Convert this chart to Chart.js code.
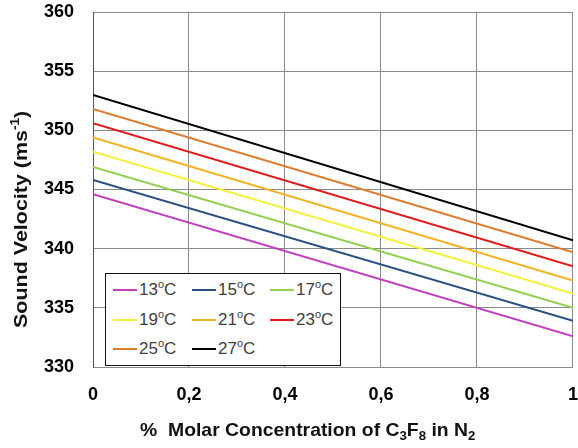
<!DOCTYPE html>
<html><head><meta charset="utf-8">
<script src="https://cdn.jsdelivr.net/npm/chart.js@4"></script>
<style>
html,body{margin:0;padding:0;background:#fff;}
#wrap{position:relative;width:578px;height:448px;}
#legend{position:absolute;left:105px;top:273px;width:236px;height:93px;border:1.5px solid #111;background:#fff;
 font-family:"Liberation Sans",Arial,sans-serif;font-size:17px;color:#404040;box-sizing:border-box;}
.item{position:absolute;display:flex;align-items:center;white-space:nowrap;line-height:18px;}
.sw{display:inline-block;width:24px;height:2.5px;margin-right:2px;}
.sup{font-size:11px;position:relative;top:-6px;}
</style></head>
<body><div id="wrap"><canvas id="c" width="578" height="448"></canvas><div id="legend"></div></div>
<script>
const xValues = [0, 1];
const seriesNames = ['13', '15', '17', '19', '21', '23', '25', '27'];
const s13 = [344.6, 332.6];
const s15 = [345.8, 333.9];
const s17 = [346.9, 335.0];
const s19 = [348.2, 336.2];
const s21 = [349.4, 337.3];
const s23 = [350.6, 338.5];
const s25 = [351.8, 339.7];
const s27 = [353.0, 340.7];
const seriesValues = [s13, s15, s17, s19, s21, s23, s25, s27];
const seriesColors = ['#c23fbf', '#2a4f82', '#92d050', '#f2f23c', '#f2b322', '#e01b1b', '#e07a2c', '#000000'];
const xTickLabels = ['0', '0,2', '0,4', '0,6', '0,8', '1'];
const yTickLabels = ['330', '335', '340', '345', '350', '355', '360'];
// title pieces: [text, 0 normal / 1 subscript / 2 superscript]
const xTitle = [['%  Molar Concentration of C', 0], ['3', 1], ['F', 0], ['8', 1], [' in N', 0], ['2', 1]];
const yTitle = [['Sound Velocity (ms', 0], ['-1', 2], [')', 0]];

const datasets = seriesValues.map((vals, i) => ({
  label: seriesNames[i] + '°C',
  data: xValues.map((x, j) => ({x: x, y: vals[j]})),
  borderColor: seriesColors[i],
  backgroundColor: seriesColors[i],
  borderWidth: 2,
  pointRadius: 0,
  tension: 0,
  fill: false
}));

const FAM = '"Liberation Sans", Arial, sans-serif';
const font = {family: FAM, size: 18, weight: 'bold'};

function drawPieces(ctx, pieces, stretch) {
  ctx.scale(stretch, 1);
  ctx.textBaseline = 'alphabetic';
  ctx.textAlign = 'left';
  let x = 0;
  pieces.forEach(([t, k]) => {
    const size = k === 0 ? 19 : (k === 1 ? 13 : 12);
    const dy = k === 1 ? 4 : (k === 2 ? -8 : 0);
    ctx.font = 'bold ' + size + 'px ' + FAM;
    ctx.fillText(t, x, dy);
    x += ctx.measureText(t).width;
  });
}

const titlePlugin = {
  id: 'axisTitles',
  afterDraw(chart) {
    const ctx = chart.ctx;
    const area = chart.chartArea;
    ctx.fillStyle = '#111';
    ctx.save();
    ctx.translate(area.left + 47, area.bottom + 69);
    drawPieces(ctx, xTitle, 1.02);
    ctx.restore();
    ctx.save();
    ctx.translate(27, area.top + 316);
    ctx.rotate(-Math.PI / 2);
    drawPieces(ctx, yTitle, 1.13);
    ctx.restore();
  }
};

new Chart(document.getElementById('c'), {
  type: 'line',
  data: {datasets},
  plugins: [titlePlugin],
  options: {
    responsive: false,
    animation: false,
    layout: {padding: {left: 0, right: 5, top: 12, bottom: 0}},
    plugins: {legend: {display: false}, tooltip: {enabled: false}},
    scales: {
      x: {
        type: 'linear', min: 0, max: 1,
        ticks: {stepSize: 0.2, padding: 0, color: '#000', font,
          callback: (v, i) => xTickLabels[i]},
        grid: {color: '#8a8a8a', lineWidth: 1, drawTicks: true, tickLength: 17, tickColor: 'rgba(0,0,0,0)'},
        border: {color: '#8a8a8a'},
        afterFit: s => { s.height = 81; }
      },
      y: {
        min: 330, max: 360,
        ticks: {stepSize: 5, padding: 0, color: '#000', font,
          callback: (v, i) => yTickLabels[i]},
        grid: {color: '#8a8a8a', lineWidth: 1, drawTicks: true, tickLength: 19, tickColor: 'rgba(0,0,0,0)'},
        border: {color: '#555'},
        afterFit: s => { s.width = 93; }
      }
    }
  }
});

const leg = document.getElementById('legend');
const cols = [7, 86, 164];
const rows = [7, 37, 66];
seriesNames.forEach((n, i) => {
  const d = document.createElement('div');
  d.className = 'item';
  d.style.left = cols[i % 3] + 'px';
  d.style.top = rows[Math.floor(i / 3)] + 'px';
  d.innerHTML = '<span class="sw" style="background:' + seriesColors[i] + '"></span>' + n + '<span class="sup">o</span>C';
  leg.appendChild(d);
});
</script></body></html>
